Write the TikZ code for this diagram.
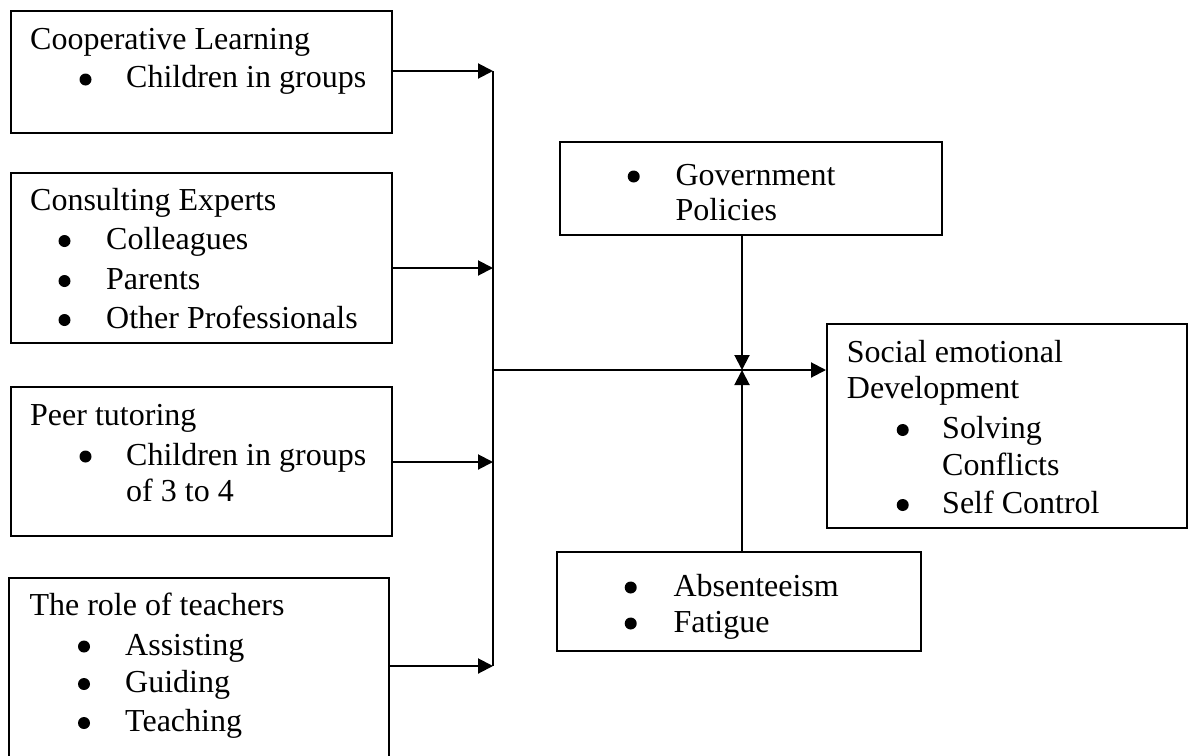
\documentclass[tikz,border=0pt]{standalone}
\usepackage{fontspec}
\setmainfont{Liberation Serif}
\usetikzlibrary{arrows.meta}
\begin{document}
\begin{tikzpicture}[x=1pt,y=-1pt,
  box/.style={draw, line width=2pt, rectangle, inner sep=0pt, anchor=north west},
  txt/.style={anchor=base west, inner sep=0pt, font=\fontsize{32}{38}\selectfont},
  conn/.style={line width=2pt},
  arr/.style={conn, -{Triangle[length=15pt,width=15pt]}},
  bul/.style={circle, fill, inner sep=0pt, minimum size=12pt}]
\useasboundingbox (0,0) rectangle (1191,755);
\clip (0,0) rectangle (1191,755);
\fill[white] (0,0) rectangle (1191,755);

% ---- boxes ----
\node[box, minimum width=381pt, minimum height=122pt] (b1) at (9.5,9.5) {};
\node[box, minimum width=381pt, minimum height=170pt] (b2) at (9.5,172) {};
\node[box, minimum width=381pt, minimum height=149pt] (b3) at (9.5,386) {};
\node[box, minimum width=380pt, minimum height=230pt] (b4) at (8.3,577) {};
\node[box, minimum width=382pt, minimum height=93pt] (b5) at (558.6,141) {};
\node[box, minimum width=360pt, minimum height=204pt] (b6) at (826,323) {};
\node[box, minimum width=364pt, minimum height=99pt] (b7) at (555.7,551) {};

% ---- box 1 ----
\node[txt] (t11) at (30,49.3) {Cooperative Learning};
\node[bul] (d11) at (85.5,79.5) {};
\node[txt] (t12) at (126,87.7) {Children in groups};

% ---- box 2 ----
\node[txt] (t21) at (30,210.7) {Consulting Experts};
\node[bul] (d21) at (64.5,241) {};
\node[txt] (t22) at (106,249.3) {Colleagues};
\node[bul] (d22) at (64.5,281) {};
\node[txt] (t23) at (106,289.3) {Parents};
\node[bul] (d23) at (64.5,320) {};
\node[txt] (t24) at (106,328.3) {Other Professionals};

% ---- box 3 ----
\node[txt] (t31) at (30,425) {Peer tutoring};
\node[bul] (d31) at (85.5,456.5) {};
\node[txt] (t32) at (126,465) {Children in groups};
\node[txt] (t33) at (126,501.7) {of 3 to 4};

% ---- box 4 ----
\node[txt] (t41) at (29.3,615) {The role of teachers};
\node[bul] (d41) at (84,646.5) {};
\node[txt] (t42) at (125,655) {Assisting};
\node[bul] (d42) at (84,684) {};
\node[txt] (t43) at (125,692.7) {Guiding};
\node[bul] (d43) at (84,723) {};
\node[txt] (t44) at (125,731.7) {Teaching};

% ---- box 5 (Government) ----
\node[bul] (d51) at (633.7,176.5) {};
\node[txt] (t51) at (675.4,185) {Government};
\node[txt] (t52) at (675.4,220) {Policies};

% ---- box 6 (Social emotional) ----
\node[txt] (t61) at (846.7,362.7) {Social emotional};
\node[txt] (t62) at (846.7,398.3) {Development};
\node[bul] (d61) at (902.7,430) {};
\node[txt] (t63) at (942,438.3) {Solving};
\node[txt] (t64) at (942,475) {Conflicts};
\node[bul] (d62) at (902.7,505) {};
\node[txt] (t65) at (942,513.3) {Self Control};

% ---- box 7 (Absenteeism) ----
\node[bul] (d71) at (630.7,587.5) {};
\node[txt] (t71) at (673.3,596) {Absenteeism};
\node[bul] (d72) at (630.7,623.5) {};
\node[txt] (t72) at (673.3,632) {Fatigue};

% ---- connectors ----
\coordinate (j1) at (493,71);
\coordinate (j2) at (493,268);
\coordinate (j3) at (493,462);
\coordinate (j4) at (493,666);
\coordinate (jm) at (493,370);
\coordinate (x0) at (742,370);

\draw[arr] (b1.east |- j1) -- (j1);
\draw[arr] (b2.east |- j2) -- (j2);
\draw[arr] (b3.east |- j3) -- (j3);
\draw[arr] (b4.east |- j4) -- (j4);
\draw[conn] (j1) -- (j4);
\draw[arr] (jm) -- (b6.west |- jm);
\draw[arr] (b5.south -| x0) -- (x0);
\draw[arr] (b7.north -| x0) -- (x0);
\end{tikzpicture}
\end{document}
